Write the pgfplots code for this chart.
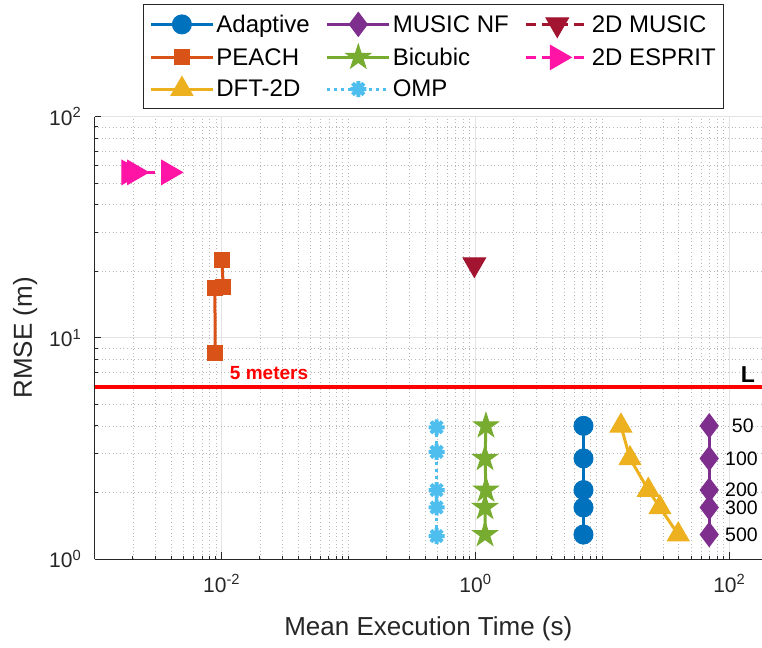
\documentclass[border=0pt]{standalone}
\usepackage{fontspec}
\setmainfont{Liberation Sans}
\usepackage{pgfplots}
\pgfplotsset{compat=1.18}

\definecolor{cA}{rgb}{0,0.447,0.741}
\definecolor{cP}{rgb}{0.85,0.325,0.098}
\definecolor{cD}{rgb}{0.929,0.694,0.125}
\definecolor{cM}{rgb}{0.494,0.184,0.556}
\definecolor{cB}{rgb}{0.466,0.674,0.188}
\definecolor{cO}{rgb}{0.301,0.745,0.933}
\definecolor{cTM}{rgb}{0.635,0.078,0.184}
\definecolor{cE}{rgb}{1,0.08,0.65}
\definecolor{axgray}{rgb}{0.15,0.15,0.15}

\pgfdeclareplotmark{pentagram}{%
 \pgfpathmoveto{\pgfpointpolar{90}{\pgfplotmarksize}}%
 \pgfpathlineto{\pgfpointpolar{126}{0.382\pgfplotmarksize}}%
 \pgfpathlineto{\pgfpointpolar{162}{\pgfplotmarksize}}%
 \pgfpathlineto{\pgfpointpolar{198}{0.382\pgfplotmarksize}}%
 \pgfpathlineto{\pgfpointpolar{234}{\pgfplotmarksize}}%
 \pgfpathlineto{\pgfpointpolar{270}{0.382\pgfplotmarksize}}%
 \pgfpathlineto{\pgfpointpolar{306}{\pgfplotmarksize}}%
 \pgfpathlineto{\pgfpointpolar{342}{0.382\pgfplotmarksize}}%
 \pgfpathlineto{\pgfpointpolar{18}{\pgfplotmarksize}}%
 \pgfpathlineto{\pgfpointpolar{54}{0.382\pgfplotmarksize}}%
 \pgfpathclose
 \pgfusepathqfillstroke}

\pgfdeclareplotmark{ast8}{%
 \pgfpathmoveto{\pgfpointpolar{0}{\pgfplotmarksize}}\pgfpathlineto{\pgfpointpolar{180}{\pgfplotmarksize}}%
 \pgfpathmoveto{\pgfpointpolar{90}{\pgfplotmarksize}}\pgfpathlineto{\pgfpointpolar{270}{\pgfplotmarksize}}%
 \pgfpathmoveto{\pgfpointpolar{45}{\pgfplotmarksize}}\pgfpathlineto{\pgfpointpolar{225}{\pgfplotmarksize}}%
 \pgfpathmoveto{\pgfpointpolar{135}{\pgfplotmarksize}}\pgfpathlineto{\pgfpointpolar{315}{\pgfplotmarksize}}%
 \pgfusepathqstroke}

\begin{document}
\begin{tikzpicture}
\useasboundingbox (0,0) rectangle (762bp,648bp);
\begin{axis}[
 at={(94.7bp,89bp)}, anchor=south west,
 scale only axis, width=667.3bp, height=442.3bp,
 xmode=log, ymode=log,
 xmin=1e-3, xmax=181, ymin=1, ymax=100,
 clip=false,
 axis x line*=bottom, axis y line*=left,
 axis line style={axgray, line width=0.8bp},
 xtick={0.01,1,100},
 xticklabels={10\textsuperscript{-2},10\textsuperscript{0},10\textsuperscript{2}},
 ytick={1,10,100},
 yticklabels={10\textsuperscript{0},10\textsuperscript{1},10\textsuperscript{2}},
 minor xtick={0.002,0.003,0.004,0.005,0.006,0.007,0.008,0.009,
   0.02,0.03,0.04,0.05,0.06,0.07,0.08,0.09,0.1,
   0.2,0.3,0.4,0.5,0.6,0.7,0.8,0.9,
   2,3,4,5,6,7,8,9,10,20,30,40,50,60,70,80,90},
 minor ytick={2,3,4,5,6,7,8,9,20,30,40,50,60,70,80,90},
 grid=both,
 major grid style={gray!22, line width=0.7bp},
 minor grid style={gray!55, line width=0.6bp, dash pattern=on 1bp off 2.6bp},
 tick style={axgray, line width=0.8bp},
 major tick length=6.7bp, minor tick length=3.5bp,
 tick align=inside,
 ticklabel style={font=\fontsize{21bp}{25bp}\selectfont, text=axgray},
 xticklabel shift=12bp,
 yticklabel shift=10bp,
 xlabel={Mean Execution Time (s)},
 ylabel={RMSE (m)},
 xlabel shift=17bp,
 ylabel shift=5bp,
 label style={font=\fontsize{26bp}{30bp}\selectfont, text=axgray},
 legend columns=3,
 legend cell align=left,
 legend image code/.code={\draw[mark repeat=2,mark phase=2,#1] plot coordinates {(0bp,0bp) (31bp,0bp) (62bp,0bp)};},
 legend style={at={(0.0724,1.2548)}, anchor=north west, draw=axgray, line width=0.8bp,
   font=\fontsize{24bp}{28bp}\selectfont, text=black,
   /tikz/every even column/.append style={column sep=14bp},
   row sep=7bp, inner xsep=6bp, inner ysep=8bp},
]
% Adaptive
\addplot[cA, line width=3bp, mark=*, mark size=9.5bp, mark options={solid, fill=cA, line width=1bp}]
 coordinates {(7.1,4.0) (7.1,2.85) (7.1,2.05) (7.1,1.71) (7.1,1.29)};
\addlegendentry{Adaptive}
% MUSIC NF
\addplot[cM, line width=3bp, mark=diamond*, mark size=12bp, mark options={solid, fill=cM, line width=1bp}]
 coordinates {(69.5,4.0) (69.5,2.85) (69.5,2.05) (69.5,1.71) (69.5,1.29)};
\addlegendentry{MUSIC NF}
% 2D MUSIC
\addplot[cTM, line width=3bp, dash pattern=on 10bp off 6bp, mark=triangle*, mark size=13bp, mark options={solid, fill=cTM, line width=1bp, rotate=180}]
 coordinates {(0.98,21.5)};
\addlegendentry{2D MUSIC}
% PEACH
\addplot[cP, line width=3bp, mark=square*, mark size=7.5bp, mark options={solid, fill=cP, line width=1bp}]
 coordinates {(0.01005,22.5) (0.0103,17.0) (0.00885,16.8) (0.0089,8.54)};
\addlegendentry{PEACH}
% Bicubic
\addplot[cB, line width=3bp, mark=pentagram, mark size=13bp, mark options={solid, fill=cB, line width=1bp}]
 coordinates {(1.21,4.0) (1.19,2.85) (1.21,2.05) (1.19,1.71) (1.19,1.29)};
\addlegendentry{Bicubic}
% 2D ESPRIT
\addplot[cE, line width=3bp, dash pattern=on 10bp off 6bp, mark=triangle*, mark size=14bp, mark options={solid, fill=cE, line width=1bp, rotate=-90}]
 coordinates {(0.00186,56) (0.00206,56) (0.00382,56)};
\addlegendentry{2D ESPRIT}
% DFT-2D
\addplot[cD, line width=3bp, mark=triangle*, mark size=12.5bp, mark options={solid, fill=cD, line width=1bp}]
 coordinates {(14.0,4.0) (16.5,2.85) (23.0,2.05) (28.4,1.71) (39.6,1.29)};
\addlegendentry{DFT-2D}
% OMP
\addplot[cO, line width=3bp, dash pattern=on 3bp off 4bp, mark=ast8, mark size=8bp, mark options={solid, line width=4bp}]
 coordinates {(0.494,3.94) (0.494,3.05) (0.494,2.05) (0.494,1.71) (0.494,1.27)};
\addlegendentry{OMP}
% 5 meters line
\addplot[red, line width=4bp, forget plot] coordinates {(1e-3,6) (181,6)};
\node[anchor=base west, inner sep=0pt, text=red, font=\fontsize{19bp}{22bp}\selectfont\bfseries] at (axis cs:0.0116,6.51) {5 meters};
\node[anchor=base west, inner sep=0pt, text=black, font=\fontsize{23bp}{26bp}\selectfont\bfseries] at (axis cs:123,6.27) {L};
% sample labels
\node[anchor=west, inner sep=0pt, font=\fontsize{19.5bp}{22bp}\selectfont] at (axis cs:104.5,4.0) {50};
\node[anchor=west, inner sep=0pt, font=\fontsize{19.5bp}{22bp}\selectfont] at (axis cs:92.5,2.85) {100};
\node[anchor=west, inner sep=0pt, font=\fontsize{19.5bp}{22bp}\selectfont] at (axis cs:92.5,2.05) {200};
\node[anchor=west, inner sep=0pt, font=\fontsize{19.5bp}{22bp}\selectfont] at (axis cs:92.5,1.71) {300};
\node[anchor=west, inner sep=0pt, font=\fontsize{19.5bp}{22bp}\selectfont] at (axis cs:92.5,1.29) {500};
\end{axis}
\end{tikzpicture}
\end{document}
